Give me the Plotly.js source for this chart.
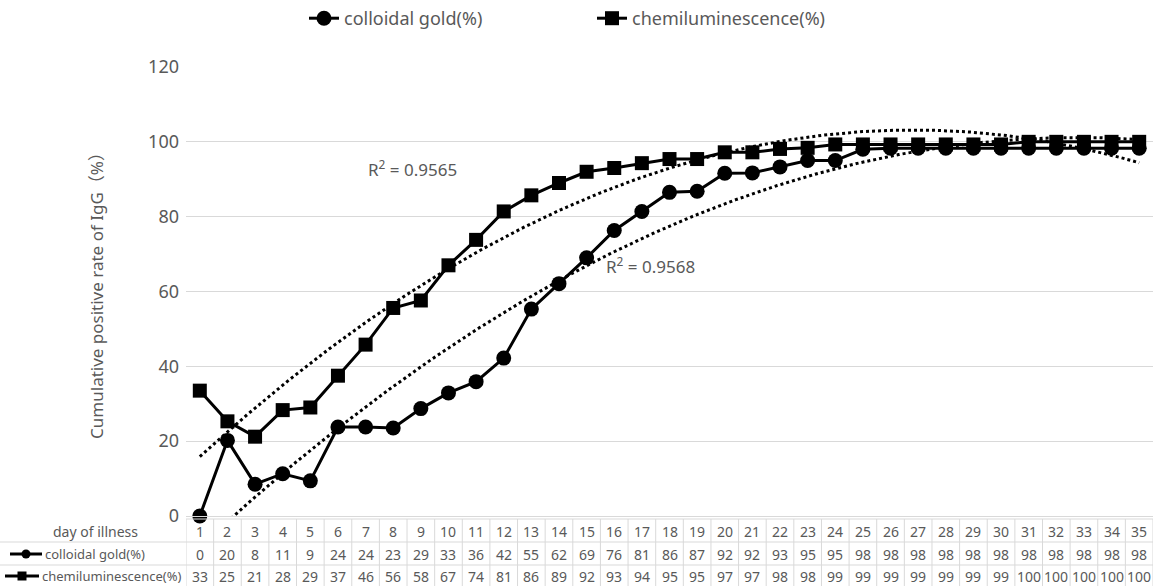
<!DOCTYPE html>
<html><head><meta charset="utf-8">
<script src="https://cdn.plot.ly/plotly-3.0.1.min.js"></script>
<style>html,body{margin:0;padding:0;background:#fff}#chart{width:1153px;height:586px}</style>
</head><body><div id="chart"></div>
<script>
// ---- data ----
const days = [1,2,3,4,5,6,7,8,9,10,11,12,13,14,15,16,17,18,19,20,21,22,23,24,25,26,27,28,29,30,31,32,33,34,35];
const colloidalGold = [0,20.2,8.5,11.3,9.4,23.8,23.8,23.5,28.7,32.9,35.9,42.2,55.3,62.1,69.0,76.3,81.4,86.5,86.8,91.6,91.7,93.3,95.0,95.0,98.0,98.3,98.3,98.3,98.3,98.3,98.3,98.3,98.3,98.3,98.3];
const chemiluminescence = [33.5,25.3,21.2,28.3,29.0,37.5,45.8,55.6,57.6,67.0,73.8,81.4,85.7,89.0,92.0,93.0,94.3,95.4,95.4,97.2,97.2,98.1,98.4,99.3,99.3,99.3,99.3,99.3,99.3,99.3,100,100,100,100,100];
const colloidalTable = [0,20,8,11,9,24,24,23,29,33,36,42,55,62,69,76,81,86,87,92,92,93,95,95,98,98,98,98,98,98,98,98,98,98,98];
const chemiTable = [33,25,21,28,29,37,46,56,58,67,74,81,86,89,92,93,94,95,95,97,97,98,98,99,99,99,99,99,99,99,100,100,100,100,100];
const seriesNames = ['colloidal gold(%)', 'chemiluminescence(%)'];
const r2Labels = ['R<sup>2</sup> = 0.9568', 'R<sup>2</sup> = 0.9565'];
const tableHeader = 'day of illness';
const yTitle = 'Cumulative positive rate of IgG（%）';

// ---- quadratic least-squares trendline (Excel polynomial, order 2) ----
function polyfit2(xs, ys) {
  const S = [0,0,0,0,0], T = [0,0,0];
  for (let i = 0; i < xs.length; i++) {
    let p = 1;
    for (let k = 0; k <= 4; k++) { S[k] += p; if (k <= 2) T[k] += p * ys[i]; p *= xs[i]; }
  }
  const A = [[S[0],S[1],S[2],T[0]],[S[1],S[2],S[3],T[1]],[S[2],S[3],S[4],T[2]]];
  for (let c = 0; c < 3; c++) {
    for (let r = c + 1; r < 3; r++) {
      const f = A[r][c] / A[c][c];
      for (let k = c; k < 4; k++) A[r][k] -= f * A[c][k];
    }
  }
  const b = [0,0,0];
  for (let r = 2; r >= 0; r--) {
    let s = A[r][3];
    for (let k = r + 1; k < 3; k++) s -= A[r][k] * b[k];
    b[r] = s / A[r][r];
  }
  return b;
}
function trend(xs, ys) {
  const b = polyfit2(xs, ys);
  const tx = [], ty = [];
  const x0 = xs[0], x1 = xs[xs.length - 1];
  for (let x = x0; x <= x1 + 1e-9; x += 0.1) { tx.push(x); ty.push(b[0] + b[1]*x + b[2]*x*x); }
  return {x: tx, y: ty};
}
const tG = trend(days, colloidalGold);
const tC = trend(days, chemiluminescence);

// ---- geometry helpers (pixel -> paper) ----
const W = 1153, H = 586, ML = 186, MR = 0, MT = 67, MB = 70;
const PW = W - ML - MR, PH = H - MT - MB;
const px = v => (v - ML) / PW;
const py = v => (H - MB - v) / PH;
const GRID = '#d9d9d9', TXT = '#595959';
const FONT = 'Noto Sans, Open Sans, sans-serif';
const TITLE_FONT = 'Noto Sans, Noto Sans CJK SC, sans-serif';

const dotStyle = {color: '#000', width: 3, dash: '3px,3px'};
const traces = [
  {x: tG.x, y: tG.y, mode: 'lines', line: dotStyle, showlegend: false, hoverinfo: 'skip'},
  {x: tC.x, y: tC.y, mode: 'lines', line: dotStyle, showlegend: false, hoverinfo: 'skip'},
  {x: days, y: colloidalGold, name: seriesNames[0], mode: 'lines+markers', cliponaxis: false,
   line: {color: '#000', width: 3}, marker: {symbol: 'circle', size: 15, color: '#000'}},
  {x: days, y: chemiluminescence, name: seriesNames[1], mode: 'lines+markers', cliponaxis: false,
   line: {color: '#000', width: 3}, marker: {symbol: 'square', size: 14, color: '#000'}}
];

const shapes = [];
const annotations = [];
// table grid
const rowTop = 519, r1 = 542, r2 = 565, rowBot = 586;
shapes.push({type:'line', xref:'paper', yref:'paper', x0:px(ML), x1:px(W), y0:py(rowTop), y1:py(rowTop), line:{color:GRID, width:1}});
[r1, r2].forEach(yy => shapes.push({type:'line', xref:'paper', yref:'paper', x0:px(0), x1:px(W), y0:py(yy), y1:py(yy), line:{color:GRID, width:1}}));
for (let i = 0; i <= days.length; i++) {
  shapes.push({type:'line', xref:'x', yref:'paper', x0:i+0.5, x1:i+0.5, y0:py(rowTop), y1:py(rowBot), line:{color:GRID, width:1}});
}
const cellFont = {family: FONT, size: 14, color: TXT};
const labelFont = {family: FONT, size: 13, color: TXT};
days.forEach((d, i) => {
  annotations.push({x: d, xref:'x', y: py(531), yref:'paper', text: String(d), showarrow:false, font: cellFont, xanchor:'center', yanchor:'middle'});
  annotations.push({x: d, xref:'x', y: py(554), yref:'paper', text: String(colloidalTable[i]), showarrow:false, font: cellFont, xanchor:'center', yanchor:'middle'});
  annotations.push({x: d, xref:'x', y: py(576), yref:'paper', text: String(chemiTable[i]), showarrow:false, font: cellFont, xanchor:'center', yanchor:'middle'});
});
// row labels
annotations.push({x: px(95), xref:'paper', y: py(531), yref:'paper', text: tableHeader, showarrow:false, font: {family: FONT, size: 14, color: TXT}, xanchor:'center', yanchor:'middle'});
annotations.push({x: px(43), xref:'paper', y: py(554), yref:'paper', text: seriesNames[0], showarrow:false, font: labelFont, xanchor:'left', yanchor:'middle'});
annotations.push({x: px(40), xref:'paper', y: py(576), yref:'paper', text: seriesNames[1], showarrow:false, font: labelFont, xanchor:'left', yanchor:'middle'});
// row label keys
shapes.push({type:'line', xref:'paper', yref:'paper', x0:px(10), x1:px(42), y0:py(554), y1:py(554), line:{color:'#000', width:3}});
shapes.push({type:'circle', xref:'paper', yref:'paper', x0:px(21.5), x1:px(30.5), y0:py(558.5), y1:py(549.5), fillcolor:'#000', line:{color:'#000', width:0}});
shapes.push({type:'line', xref:'paper', yref:'paper', x0:px(5), x1:px(39), y0:py(576), y1:py(576), line:{color:'#000', width:3}});
shapes.push({type:'rect', xref:'paper', yref:'paper', x0:px(17.5), x1:px(26.5), y0:py(580.5), y1:py(571.5), fillcolor:'#000', line:{color:'#000', width:0}});
// R^2 labels
annotations.push({x: 17.3, xref:'x', y: 67, yref:'y', text: r2Labels[0], showarrow:false, font:{family: FONT, size: 17, color: TXT}, xanchor:'center', yanchor:'middle'});
annotations.push({x: 8.7, xref:'x', y: 93, yref:'y', text: r2Labels[1], showarrow:false, font:{family: FONT, size: 17, color: TXT}, xanchor:'center', yanchor:'middle'});

const layout = {
  width: W, height: H,
  margin: {l: ML, r: MR, t: MT, b: MB, pad: 0},
  paper_bgcolor: '#fff', plot_bgcolor: '#fff',
  font: {family: FONT, color: TXT},
  showlegend: true,
  legend: {orientation: 'h', x: px(304), xanchor: 'left', y: py(0), yanchor: 'top',
           font: {family: FONT, size: 18, color: TXT}, entrywidth: 243, entrywidthmode: 'pixels',
           bgcolor: 'rgba(0,0,0,0)'},
  xaxis: {range: [0.5, 35.5], showticklabels: false, showgrid: false, zeroline: false,
          showline: true, linecolor: GRID, linewidth: 1, ticks: '', fixedrange: true},
  yaxis: {range: [0, 120], dtick: 20, tick0: 0, showgrid: true, gridcolor: GRID, gridwidth: 1,
          zeroline: false, showline: false, ticks: '', ticklabelstandoff: 6,
          tickfont: {family: FONT, size: 18, color: TXT},
          title: {text: yTitle, font: {family: TITLE_FONT, size: 17, color: TXT}, standoff: 40},
          fixedrange: true},
  shapes: shapes,
  annotations: annotations
};
Plotly.newPlot('chart', traces, layout, {displayModeBar: false, staticPlot: true});
</script>
</body></html>
